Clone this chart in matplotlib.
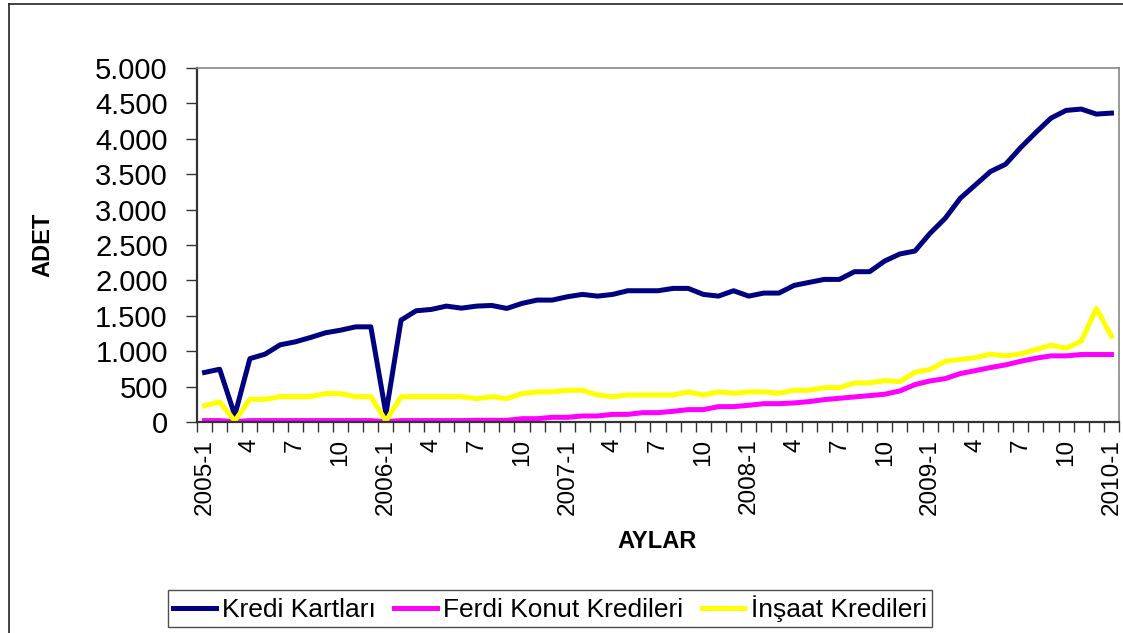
import matplotlib
matplotlib.use("Agg")
import matplotlib.pyplot as plt
from matplotlib.ticker import FuncFormatter, FixedLocator
from matplotlib.lines import Line2D

plt.rcParams['font.family'] = ['Liberation Sans', 'DejaVu Sans']

# Aylık seriler, 2005-1 .. 2010-1
yillar = [2005, 2006, 2007, 2008, 2009, 2010]
aylar = [f"{y}-{m}" if m == 1 else str(m) for y in yillar for m in range(1, 13)][:61]

kredi_kartlari = [700, 745, 95, 895, 958, 1090, 1132, 1193, 1260, 1297, 1344, 1344, 118,
                  1439, 1571, 1590, 1637, 1608, 1637, 1646, 1604, 1675, 1722, 1722, 1769,
                  1802, 1778, 1802, 1854, 1854, 1854, 1887, 1887, 1802, 1778, 1854, 1778,
                  1821, 1821, 1929, 1972, 2014, 2014, 2123, 2123, 2274, 2373, 2415, 2665,
                  2877, 3160, 3349, 3538, 3641, 3877, 4090, 4292, 4401, 4420, 4349, 4363]
ferdi_konut = [20, 20, 5, 20, 20, 20, 20, 20, 20, 20, 20, 20, 5,
               20, 20, 20, 20, 20, 24, 24, 24, 47, 47, 66, 66,
               85, 85, 108, 108, 132, 132, 151, 175, 175, 217, 217, 236,
               259, 259, 269, 288, 316, 335, 354, 373, 392, 439, 528, 580,
               613, 684, 726, 769, 807, 858, 901, 934, 934, 953, 953, 953]
insaat = [231, 283, 15, 321, 321, 358, 358, 358, 401, 401, 358, 358, 15,
          358, 358, 358, 358, 358, 330, 358, 330, 401, 425, 425, 448,
          448, 382, 358, 382, 382, 382, 382, 425, 382, 425, 406, 425,
          425, 406, 448, 448, 486, 486, 552, 552, 585, 571, 703, 741,
          858, 882, 910, 958, 934, 962, 1024, 1085, 1042, 1142, 1604, 1212]

fig = plt.figure(figsize=(11.23, 6.33), dpi=100)
ax = fig.add_axes([197 / 1123, 1 - 422 / 633, 922 / 1123, 354 / 633])

x = list(range(len(aylar)))
ax.plot(x, kredi_kartlari, color='#000080', lw=3.6, label='Kredi Kartları')
ax.plot(x, ferdi_konut, color='#FF00FF', lw=3.6, label='Ferdi Konut Kredileri')
ax.plot(x, insaat, color='#FFFF00', lw=3.6, label='İnşaat Kredileri')

ax.set_xlim(-0.5, len(aylar) - 0.5)
ax.set_ylim(0, 5000)

# y ekseni: binlik ayırıcı nokta
ax.set_yticks(range(0, 5001, 500))
ax.yaxis.set_major_formatter(FuncFormatter(lambda v, p: f"{int(v):,}".replace(",", ".")))
ax.tick_params(axis='y', labelsize=21, length=8, width=1, color='#333333', pad=13)

# x ekseni: etiketler her 3 ayda bir, çentikler kategori sınırlarında
etiket_idx = list(range(0, len(aylar), 3))
ax.xaxis.set_major_locator(FixedLocator(etiket_idx))
ax.set_xticklabels([aylar[i] for i in etiket_idx], rotation=90)
ax.xaxis.set_minor_locator(FixedLocator([i - 0.5 for i in range(len(aylar) + 1)]))
ax.tick_params(axis='x', which='major', labelsize=17.5, length=0, pad=12)
ax.tick_params(axis='x', which='minor', length=7, width=1, color='#333333')

for s in ['top', 'right']:
    ax.spines[s].set_color('#888888')
    ax.spines[s].set_linewidth(1.2)
for s in ['left', 'bottom']:
    ax.spines[s].set_color('#333333')
    ax.spines[s].set_linewidth(1.6)

fig.text(43 / 1123, 1 - 245 / 633, 'ADET', rotation=90, fontsize=17, fontweight='bold',
         ha='center', va='center')
fig.text(657 / 1123, 1 - 542 / 633, 'AYLAR', fontsize=17, fontweight='bold',
         ha='center', va='center')

leg = ax.legend(loc='center', bbox_to_anchor=(550 / 1123, 1 - 608.5 / 633),
                bbox_transform=fig.transFigure, ncol=3, fontsize=19, frameon=True,
                fancybox=False, handlelength=1.6, handletextpad=0.25, columnspacing=0.7,
                borderpad=0.2, borderaxespad=0)
leg.get_frame().set_edgecolor('#222222')
leg.get_frame().set_linewidth(1.0)
for h in leg.get_lines():
    h.set_linewidth(3.6)

# grafik alanı çerçevesi (sol ve üst kenar)
fx, fy = 8.5 / 1123, 1 - 4 / 633
fig.add_artist(Line2D([fx, fx], [0, fy], transform=fig.transFigure, color='#222222', lw=1.2))
fig.add_artist(Line2D([fx, 1], [fy, fy], transform=fig.transFigure, color='#222222', lw=1.2))

fig.savefig('out.png', dpi=100)
